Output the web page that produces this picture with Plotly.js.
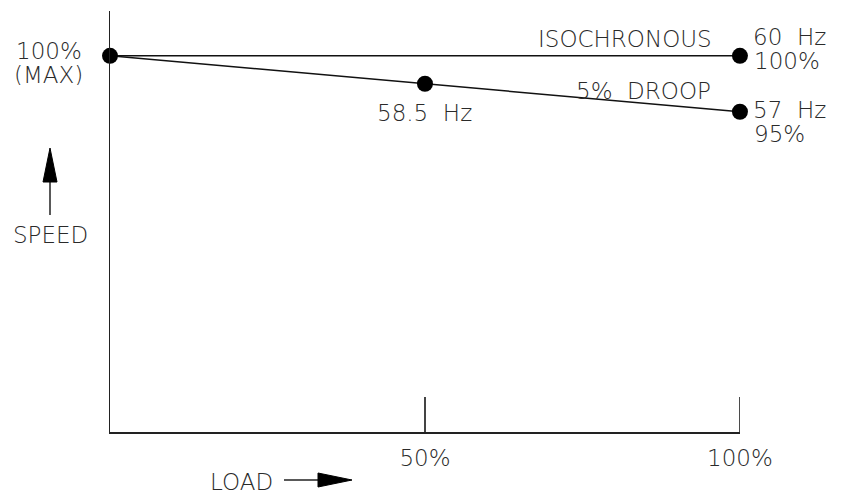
<!DOCTYPE html>
<html>
<head>
<meta charset="utf-8">
<script src="https://cdn.plot.ly/plotly-3.0.1.min.js"></script>
<style>html,body{margin:0;padding:0;background:#fff;}#chart{width:844px;height:494px;}</style>
</head>
<body>
<div id="chart"></div>
<script>
// Data
var loadPct = [0, 50, 100];
var isoSpeed = [100, 100, 100];
var droopLoad = [0, 50, 100];
var droopSpeed = [100, 97.5, 95];
var tickVals = [50, 100];
var tickLabels = ['50%', '100%'];

var NB = '\u00a0';
var W = 844, H = 494, L = 110, R = 104, T = 11, B = 62;
var pw = W - L - R, ph = H - T - B;
function px(x) { return (x - L) / pw; }
function py(y) { return (H - B - y) / ph; }

var textFont = {family: 'DejaVu Sans', size: 23, color: '#2a2a2a', weight: 200};

var traces = [
  {x: loadPct, y: isoSpeed, mode: 'lines', line: {color: '#111', width: 1.5}, cliponaxis: false, hoverinfo: 'skip'},
  {x: droopLoad, y: droopSpeed, mode: 'lines', line: {color: '#111', width: 1.5}, cliponaxis: false, hoverinfo: 'skip'},
  {x: [loadPct[0], loadPct[2], droopLoad[1], droopLoad[2]], y: [isoSpeed[0], isoSpeed[2], droopSpeed[1], droopSpeed[2]],
   mode: 'markers', marker: {color: '#000', size: 16}, cliponaxis: false, hoverinfo: 'skip'}
];

function ann(text, x, y, xanchor) {
  return {text: text, x: px(x), y: py(y), xref: 'paper', yref: 'paper', showarrow: false,
          xanchor: xanchor || 'center', yanchor: 'middle', font: textFont, align: xanchor || 'center',
          height: 21, borderpad: 0};
}

var annotations = [
  ann('100%', 49, 51),
  ann('(MAX)', 48, 75),
  ann('SPEED', 50, 234),
  ann('LOAD', 241, 481),
  ann('ISOCHRONOUS', 625, 38),
  ann('60' + NB + NB + 'Hz', 752, 37, 'left'),
  ann('100%', 753, 60, 'left'),
  ann('5%' + NB + NB + 'DROOP', 643, 91),
  ann('57' + NB + NB + 'Hz', 752, 109, 'left'),
  ann('95%', 753, 133, 'left'),
  ann('58.5' + NB + NB + 'Hz', 424, 112)
];

var shapes = [
  {type: 'line', xref: 'x', yref: 'paper', x0: tickVals[1], x1: tickVals[1], y0: 0, y1: 35 / ph, line: {color: '#222', width: 1.5}},
  {type: 'line', xref: 'paper', yref: 'paper', x0: px(50), x1: px(50), y0: py(215), y1: py(182), line: {color: '#222', width: 1.5}},
  {type: 'path', xref: 'paper', yref: 'paper', path: 'M ' + px(43) + ' ' + py(182) + ' L ' + px(57) + ' ' + py(182) + ' L ' + px(50) + ' ' + py(148) + ' Z',
   fillcolor: '#000', line: {color: '#000', width: 1}},
  {type: 'line', xref: 'paper', yref: 'paper', x0: px(284), x1: px(318), y0: py(480), y1: py(480), line: {color: '#222', width: 1.5}},
  {type: 'path', xref: 'paper', yref: 'paper', path: 'M ' + px(318) + ' ' + py(473) + ' L ' + px(318) + ' ' + py(487) + ' L ' + px(352) + ' ' + py(480) + ' Z',
   fillcolor: '#000', line: {color: '#000', width: 1}}
];

var layout = {
  width: W, height: H,
  margin: {l: L, r: R, t: T, b: B, pad: 0},
  paper_bgcolor: '#fff', plot_bgcolor: '#fff',
  showlegend: false,
  xaxis: {range: [0, 100.01], showline: true, linecolor: '#222', linewidth: 1.5, showgrid: false, zeroline: false,
          ticks: 'inside', ticklen: 35, tickwidth: 1.5, tickcolor: '#444',
          tickvals: tickVals, ticktext: tickLabels, ticklabelstandoff: 5, tickfont: textFont, fixedrange: true},
  yaxis: {range: [66.4, 104], showline: true, linecolor: '#222', linewidth: 1.5, showgrid: false, zeroline: false,
          showticklabels: false, ticks: '', fixedrange: true},
  annotations: annotations,
  shapes: shapes
};

Plotly.newPlot('chart', traces, layout, {displayModeBar: false, staticPlot: true});
</script>
</body>
</html>
